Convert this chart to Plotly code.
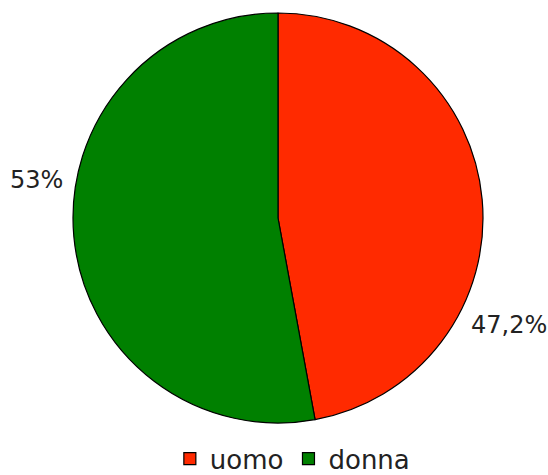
import plotly.graph_objects as go

categories = ["uomo", "donna"]
values = [47.2, 53]
value_labels = ["47,2%", "53%"]
colors = ["#FF2A00", "#008000"]

fig = go.Figure(
    go.Pie(
        labels=categories,
        values=values,
        sort=False,
        direction="clockwise",
        rotation=0,
        textinfo="none",
        hoverinfo="label+percent",
        marker=dict(colors=colors, line=dict(color="#000000", width=1.2)),
    )
)

# value labels outside the pie
fig.add_annotation(x=-0.088, y=0.593, xref="paper", yref="paper", text=value_labels[1],
                   xanchor="center", yanchor="middle",
                   showarrow=False, font=dict(size=24, color="#222222"))
fig.add_annotation(x=1.063, y=0.239, xref="paper", yref="paper", text=value_labels[0],
                   xanchor="center", yanchor="middle",
                   showarrow=False, font=dict(size=24, color="#222222"))

fig.update_layout(
    width=548,
    height=475,
    margin=dict(l=73, r=65, t=13, b=52, autoexpand=False),
    paper_bgcolor="white",
    plot_bgcolor="white",
    font=dict(family="DejaVu Sans", size=26, color="#222222"),
    legend=dict(orientation="h", x=0.535, xanchor="center", y=-0.03, yanchor="top",
                font=dict(size=26), itemwidth=30, tracegroupgap=0),
)

fig.write_html("out.html")
